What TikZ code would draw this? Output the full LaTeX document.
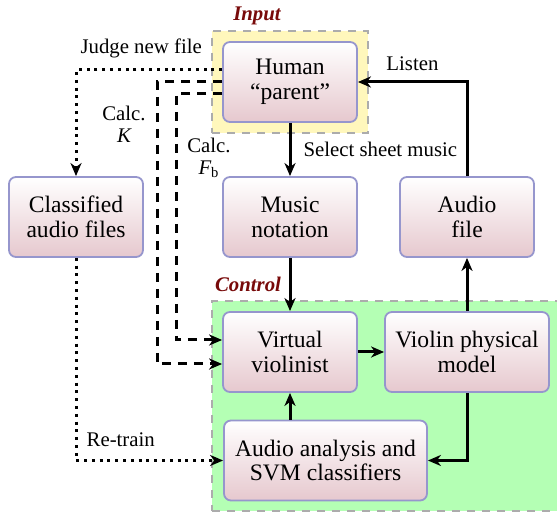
\documentclass[tikz,border=0pt]{standalone}
\usepackage{fontspec}
\setmainfont{Liberation Serif}
\usepackage{amsmath}
\usetikzlibrary{arrows.meta,fit,backgrounds,calc}

\definecolor{boxline}{RGB}{150,150,205}
\definecolor{boxbottom}{RGB}{230,200,206}
\definecolor{inputbg}{RGB}{255,247,188}
\definecolor{controlbg}{RGB}{180,255,180}
\definecolor{groupline}{RGB}{172,172,172}
\definecolor{grouptitle}{RGB}{120,10,10}

\newcommand\blockfont{\fontsize{11.8pt}{12.4pt}\selectfont}
\newcommand\edgefont{\fontsize{10.4pt}{11pt}\selectfont}

\begin{document}
\begin{tikzpicture}[
    x=0.5pt, y=-0.5pt,
    block/.style={draw=boxline, line width=0.9pt, rounded corners=3.5pt,
      top color=white, bottom color=boxbottom,
      minimum width=67pt, minimum height=40pt, align=center, inner sep=2pt,
      font=\blockfont},
    flow/.style={line width=1.5pt, -{Stealth[length=6.5pt,width=5.5pt,inset=2pt]}},
    dashflow/.style={flow, dash pattern=on 4.5pt off 3.5pt},
    dotflow/.style={flow, dash pattern=on 1.5pt off 2.4pt},
    edgelabel/.style={font=\edgefont, inner sep=0pt, align=center},
    group/.style={draw=groupline, line width=1.3pt, dash pattern=on 4pt off 3.5pt,
      inner sep=5pt},
    grouptitle/.style={font=\edgefont\bfseries\itshape, text=grouptitle,
      inner sep=0pt, anchor=base},
  ]
  \useasboundingbox (0,0) rectangle (557,512);

  % blocks
  \node[block] (human)      at (290,82)    {Human\\``parent''};
  \node[block] (music)      at (290,217)   {Music\\notation};
  \node[block] (audiofile)  at (467,217)   {Audio\\file};
  \node[block] (classified) at (76,217)    {Classified\\audio files};
  \node[block] (virtual)    at (290,352)   {Virtual\\violinist};
  \node[block, minimum width=82pt] (violin) at (467,352) {Violin physical\\model};
  \node[block, minimum width=101.5pt] (analysis) at (325.5,460.5)
    {Audio analysis and\\SVM classifiers};

  % group frames
  \begin{scope}[on background layer]
    \node[group, fill=inputbg, fit=(human)] (inputgrp) {};
    \node[group, fill=controlbg, fit=(virtual)(violin)(analysis)] (controlgrp) {};
  \end{scope}
  \node[grouptitle] (inputtitle) at (257,21) {Input};
  \node[grouptitle] (controltitle) at (248,292) {Control};

  % bend points of the dashed feeds
  \coordinate (kbend)  at (157,364);
  \coordinate (fbbend) at (176,340);

  % solid flow
  \draw[flow] (human) -- (music)
    node[edgelabel, midway, anchor=west, xshift=6pt] {Select sheet music};
  \draw[flow] (audiofile.north) |- (human.east)
    node[edgelabel, pos=0.75, anchor=base, yshift=5.5pt] {Listen};
  \draw[flow] (music) -- (virtual);
  \draw[flow] (virtual) -- (violin);
  \draw[flow] (violin) -- (audiofile);
  \draw[flow] (violin.south) |- (analysis.east);
  \draw[flow] (virtual.south |- analysis.north) -- (virtual.south);

  % judging and re-training
  \draw[dotflow] ([yshift=6pt]human.west) -| (classified.north)
    node[edgelabel, pos=0.277, anchor=base, yshift=8pt] {Judge new file};
  \draw[dotflow] (classified.south) |- (analysis.west)
    node[edgelabel, pos=0.652, anchor=base, yshift=6.75pt] {Re-train};

  % parameter feeds
  \draw[dashflow] (human.west) -| (kbend) -- ([yshift=-6pt]virtual.west);
  \draw[dashflow] ([yshift=-6pt]human.west) -| (fbbend) -- ([yshift=6pt]virtual.west);
  \node[edgelabel] (klabel)  at (124,124) {Calc.\\$\textit{K}$};
  \node[edgelabel] (fblabel) at (209,158) {Calc.\\$\textit{F}_{\text{b}}$};
\end{tikzpicture}
\end{document}
